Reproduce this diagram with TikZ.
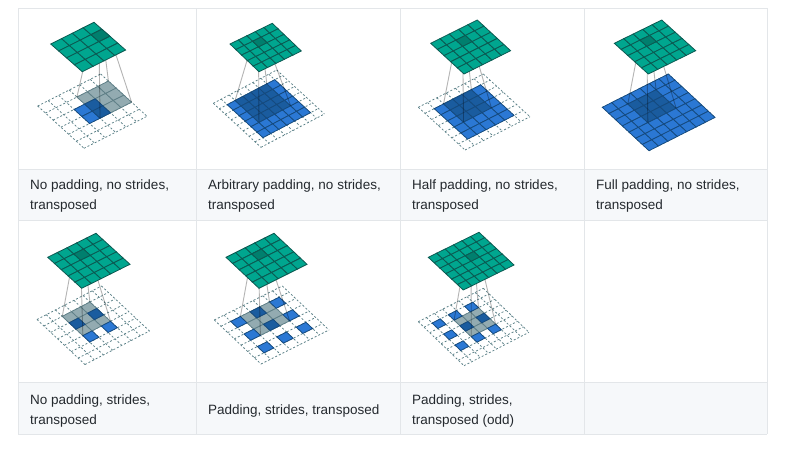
\documentclass[tikz,border=0pt]{standalone}
\usepackage{fontspec}
\setmainfont{Liberation Sans}
\definecolor{tealfill}{HTML}{00A68F}
\definecolor{tealdark}{HTML}{007F6E}
\definecolor{tealline}{HTML}{0B5A52}
\definecolor{bluefill}{HTML}{2B78D4}
\definecolor{bluedark}{HTML}{1A5C9F}
\definecolor{blueline}{HTML}{154A7E}
\definecolor{greyfill}{HTML}{93ABB1}
\definecolor{greyline}{HTML}{5F7F87}
\definecolor{dashcol}{HTML}{5A8087}
\definecolor{wirecol}{HTML}{B4B4B4}
\definecolor{rulecol}{HTML}{E3E6E9}
\definecolor{capfill}{HTML}{F6F8FA}
\definecolor{textcol}{HTML}{24292E}
\tikzset{
  dashgrid/.style={draw=dashcol,line width=.75pt,dash pattern=on 2pt off 2pt},
  bluecell/.style={fill=bluefill,draw=blueline,line width=.75pt},
  darkcell/.style={fill=bluedark,draw=blueline,line width=.75pt},
  greycell/.style={fill=greyfill,draw=greyline,line width=.75pt},
  tealcell/.style={fill=tealfill,draw=tealline,line width=.8pt},
  tealhot/.style={fill=tealdark,draw=tealline,line width=.8pt},
  wire/.style={draw=wirecol,line width=.9pt,blend mode=multiply},
  tablerule/.style={draw=rulecol,line width=1pt},
  capband/.style={fill=capfill,draw=none},
  captext/.style={anchor=north west,inner sep=0pt,align=left,text=textcol,font=\fontsize{13.5}{20}\selectfont},
}
\newcommand\setframe[8]{%
  \pgfmathsetmacro\fa{(#4-#2)/#8}\pgfmathsetmacro\fb{-(#5-#3)/#8}%
  \pgfmathsetmacro\fc{(#6-#2)/#8}\pgfmathsetmacro\fd{-(#7-#3)/#8}%
  \edef\fmtmp{\noexpand\tikzset{#1/.style={cm={\fa,\fb,\fc,\fd,(#2,-#3)}}}}\fmtmp}
% nbot, ntop, ku, kv, ksize, tu, tv, blue list
\newcommand\convpanel[8]{%
  \begin{scope}[botframe]
    \foreach \i in {0,...,#1}{%
      \draw[dashgrid] (\i,0) -- (\i,#1);
      \draw[dashgrid] (0,\i) -- (#1,\i);}
    \pgfmathtruncatemacro\klast{#3+#5-1}\pgfmathtruncatemacro\klastv{#4+#5-1}
    \foreach \u in {#3,...,\klast}\foreach \v in {#4,...,\klastv}{%
      \draw[greycell] (\u,\v) rectangle ++(1,1);}
    \foreach \u in {#8}\foreach \v in {#8}{%
      \pgfmathtruncatemacro\inn{and(and(\u>=#3,\u<#3+#5),and(\v>=#4,\v<#4+#5))}
      \ifnum\inn=1 \draw[darkcell] (\u,\v) rectangle ++(1,1);
      \else \draw[bluecell] (\u,\v) rectangle ++(1,1);\fi}
    \coordinate (kL) at (#3,#4);
    \coordinate (kT) at (#3+#5,#4);
    \coordinate (kB) at (#3,#4+#5);
    \coordinate (kR) at (#3+#5,#4+#5);
  \end{scope}
  \begin{scope}[topframe]
    \coordinate (dL) at (#6,#7);
    \coordinate (dT) at (#6+1,#7);
    \coordinate (dB) at (#6,#7+1);
    \coordinate (dR) at (#6+1,#7+1);
  \end{scope}
  \draw[wire] (kL) -- (dL);
  \draw[wire] (kT) -- (dT);
  \draw[wire] (kB) -- (dB);
  \draw[wire] (kR) -- (dR);
  \begin{scope}[topframe]
    \pgfmathtruncatemacro\nlast{#2-1}
    \foreach \u in {0,...,\nlast}\foreach \v in {0,...,\nlast}{%
      \draw[tealcell] (\u,\v) rectangle ++(1,1);}
    \draw[tealhot] (#6,#7) rectangle ++(1,1);
  \end{scope}}
\begin{document}
\begin{tikzpicture}[x=1pt,y=1pt]
\useasboundingbox (0,0) rectangle (800,-448);
\fill[white] (0,0) rectangle (800,-448);
% caption bands
\fill[capband] (18,-169) rectangle (767,-220);
\fill[capband] (18,-382) rectangle (767,-434);
% table rules
\foreach \yy in {8,169,220,382,434}{\draw[tablerule] (18,-\yy) -- (767,-\yy);}
\foreach \xx in {18,196,400,584,767}{\draw[tablerule] (\xx,-8) -- (\xx,-434);}
% panels
\setframe{topframe}{50.7}{44}{94}{22.3}{82.3}{71.7}{4}
\setframe{botframe}{37.7}{106}{100.7}{74}{84}{148.3}{6}
\convpanel{6}{4}{3}{1}{3}{3}{1}{2,3}
\setframe{topframe}{230}{44}{272.3}{23.3}{259}{71.7}{5}
\setframe{botframe}{213.3}{103.3}{276.7}{70}{261}{147.3}{8}
\convpanel{8}{5}{2}{1}{4}{2}{1}{1,2,3,4,5,6}
\setframe{topframe}{430.7}{43.3}{477.3}{20}{464}{74}{5}
\setframe{botframe}{418.3}{107.3}{483.3}{74}{465}{150}{7}
\convpanel{7}{5}{2}{1}{3}{2}{1}{1,2,3,4,5}
\setframe{topframe}{614.3}{43.3}{661.7}{20}{648.3}{74}{5}
\setframe{botframe}{602.3}{107.3}{668.3}{74}{649}{150.7}{7}
\convpanel{7}{5}{2}{1}{3}{2}{1}{0,1,2,3,4,5,6}
\setframe{topframe}{47.7}{257.3}{96}{233.3}{81.7}{288.3}{5}
\setframe{botframe}{37}{319.5}{101.5}{286}{85}{364.5}{7}
\convpanel{7}{5}{2}{1}{3}{2}{1}{2,4}
\setframe{topframe}{226}{257.3}{274}{233.3}{259}{288.3}{5}
\setframe{botframe}{214.3}{320}{282.3}{286}{261}{364}{7}
\convpanel{7}{5}{2}{1}{3}{2}{1}{1,3,5}
\setframe{topframe}{428.3}{257.3}{479}{232.3}{463.3}{290}{6}
\setframe{botframe}{418.3}{321.7}{483.3}{288.3}{464}{365.7}{8}
\convpanel{8}{6}{3}{2}{3}{3}{2}{1,3,5}
% captions
\node[captext] (c1) at (30,-175) {\strut No padding, no strides,\\\strut transposed};
\node[captext] (c2) at (208,-175) {\strut Arbitrary padding, no strides,\\\strut transposed};
\node[captext] (c3) at (412,-175) {\strut Half padding, no strides,\\\strut transposed};
\node[captext] (c4) at (596,-175) {\strut Full padding, no strides,\\\strut transposed};
\node[captext] (c5) at (30,-390) {\strut No padding, strides,\\\strut transposed};
\node[captext] (c6) at (208,-400) {\strut Padding, strides, transposed};
\node[captext] (c7) at (412,-390) {\strut Padding, strides,\\\strut transposed (odd)};
\end{tikzpicture}
\end{document}
